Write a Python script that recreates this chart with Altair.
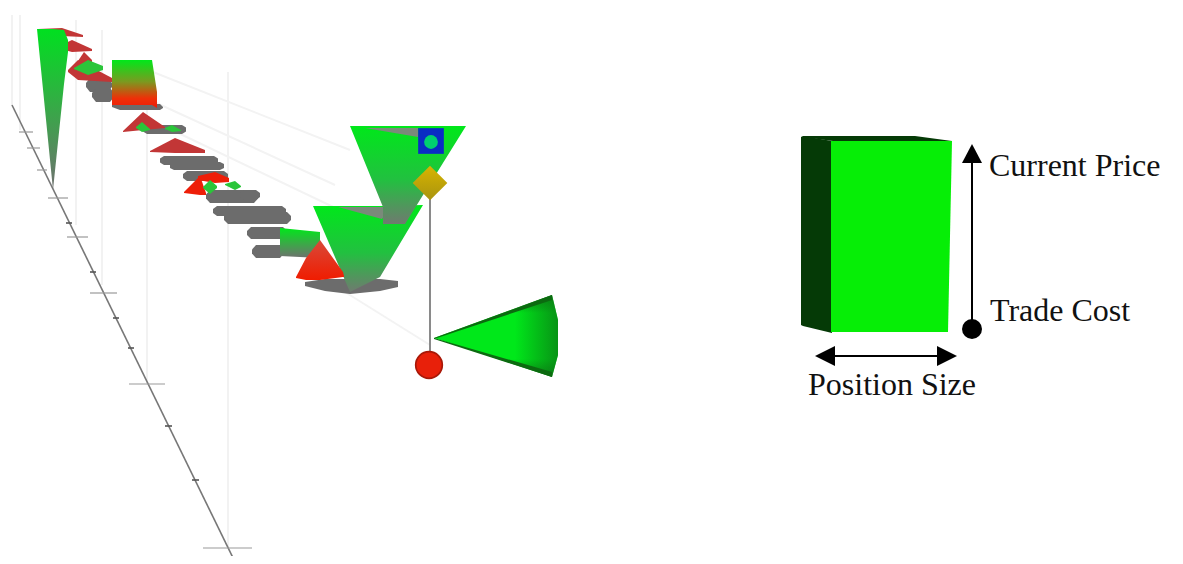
import altair as alt
import pandas as pd

W, H = 1167, 548
XD = [8, 8 + W]
YD = [8 + H, 8]
xs = alt.Scale(domain=XD, nice=False, zero=False)
ys = alt.Scale(domain=YD, nice=False, zero=False)
GREEN, GRAY, RED, DRED = "#00e81a", "#6c6c6c", "#ee1e08", "#c23636"

# ---- data: (x, top, bottom) stations of each shape
TALL_CONE = [(37, 29, 29), (53, 29, 190), (64, 30, 84), (68, 40, 52)]
BOX_A = [(112, 60, 105), (152, 60, 105), (157, 92, 108)]
BOX_A_BASE = [(112, 104, 107), (120, 104, 110), (160, 104, 110), (163, 107, 108)]
CONE_ONE = [(350, 126, 126), (383, 126, 207), (383, 126, 224), (405, 126, 224), (466, 126, 126)]
CONE_TWO = [(313, 206, 206), (350, 206, 292), (380, 206, 277), (423, 205, 205)]
BOX_B = [(280, 228, 256), (320, 232, 258)]
TRI_B = [(296, 277, 278), (306, 258, 280), (320, 240, 280), (343, 272, 277), (344, 276, 277)]
GRAY_SHADOW_B = [(305, 282, 286), (325, 279, 291), (350, 279, 294), (380, 279, 291), (398, 281, 287)]
GRAY_TOP_ONE = [(365, 128, 128), (418, 128, 137)]
GRAY_TOP_TWO = [(338, 207, 207), (382, 207, 219), (390, 207, 207)]
CONE_SIDE = [(434, 338, 338), (552, 295, 377), (558, 320, 355)]
CONE_EDGE_UP = [(434, 338, 339), (552, 295, 300)]
CONE_EDGE_DN = [(434, 338, 339), (552, 372, 377)]
CONE_RIM = [(515, 308, 364), (552, 295, 377), (558, 320, 355)]

# gray stair-step trail: x0, x1, y0, y1
GRAY_BANDS = [
    (86, 112, 78, 92), (92, 114, 88, 102), (143, 186, 125, 134),
    (160, 218, 156, 165), (170, 224, 162, 170), (183, 228, 171, 181),
    (206, 258, 190, 203), (213, 286, 206, 216), (224, 291, 212, 224),
    (247, 287, 227, 239), (252, 284, 245, 258), (240, 260, 190, 200),
]
RED_TRIS = [
    [(38, 29, 30), (62, 28, 36), (83, 35, 37)],
    [(57, 47, 48), (72, 40, 52), (92, 49, 51)],
    [(78, 61, 62), (84, 52, 64), (92, 60, 63)],
    [(68, 70, 72), (78, 60, 80), (112, 78, 82)],
    [(123, 131, 132), (143, 112, 130), (165, 127, 128)],
    [(150, 151, 152), (175, 138, 153), (205, 150, 153)],
    [(184, 192, 193), (200, 176, 195), (206, 193, 195)],
    [(198, 176, 180), (215, 172, 183), (229, 178, 182)],
]
GREEN_BITS = [
    [(74, 68, 69), (88, 60, 75), (103, 66, 70)],
    [(136, 127, 128), (142, 122, 132), (150, 129, 130)],
    [(165, 128, 129), (172, 125, 132), (181, 130, 131)],
    [(203, 187, 188), (210, 180, 194), (217, 186, 188)],
    [(225, 184, 185), (235, 181, 190), (241, 186, 187)],
]
V_GUIDES = [(12, 15, 105), (20, 15, 130), (76, 20, 225), (102, 30, 285), (147, 60, 384), (228, 72, 548)]
DIAGONALS = [(153, 72, 350, 150), (150, 100, 335, 185), (172, 130, 350, 215), (345, 292, 430, 345)]
AXIS_LINE = [(12, 105), (236, 564)]
MAJOR_TICKS = [(19, 33, 132), (27, 40, 148), (37, 47, 170), (48, 68, 198), (67, 88, 237),
               (90, 117, 293), (129, 165, 384), (203, 252, 548)]
MINOR_TICKS = [(66, 72, 223), (90, 96, 272), (113, 119, 318), (128, 134, 348), (165, 172, 426), (192, 199, 480)]
CURSOR_LINE = [(430, 195), (430, 352)]

SIDE_DARK = [(801, 137, 325), (803, 136, 326), (832, 141, 333)]
TOP_DARK = [(803, 136, 137), (833, 136, 141), (915, 136, 141), (952, 141, 141)]
FRONT = [(831, 141, 332), (833, 141, 332), (948, 141, 332), (952, 141, 141)]
PRICE_HEAD = [(962, 163, 163), (972, 144, 163), (982, 163, 163)]
LEFT_HEAD = [(815, 356, 356), (835, 346, 366)]
RIGHT_HEAD = [(937, 346, 366), (957, 356, 356)]
PRICE_LINE = [(972, 160), (972, 329)]
SIZE_LINE = [(830, 356), (942, 356)]
LABELS = [("Current Price", 989, 176), ("Trade Cost", 990, 321), ("Position Size", 808, 395)]


def grad(c0, c1, mid=None):
    stops = [alt.GradientStop(color=c0, offset=0)]
    if mid:
        stops.append(alt.GradientStop(color=mid, offset=0.5))
    stops.append(alt.GradientStop(color=c1, offset=1))
    return alt.Gradient(gradient="linear", x1=0, y1=0, x2=0, y2=1, stops=stops)


def poly(rows, color, opacity=1.0):
    df = pd.DataFrame(rows, columns=["x", "t", "b"])
    return alt.Chart(df).mark_area(color=color, opacity=opacity, line=False, clip=True).encode(
        x=alt.X("x:Q", scale=xs, axis=None),
        y=alt.Y("t:Q", scale=ys, axis=None),
        y2="b:Q",
    )


def seg(x0, y0, x1, y1, color, w, opacity=1.0):
    df = pd.DataFrame({"x": [x0], "y": [y0], "x2": [x1], "y2": [y1]})
    return alt.Chart(df).mark_rule(color=color, strokeWidth=w, opacity=opacity, clip=True).encode(
        x=alt.X("x:Q", scale=xs, axis=None),
        y=alt.Y("y:Q", scale=ys, axis=None),
        x2="x2:Q",
        y2="y2:Q",
    )


def band(x0, x1, y0, y1):
    m = (y0 + y1) / 2
    return [(x0, m - 2, m + 2), (x0 + 4, y0, y1), (x1 - 4, y0, y1), (x1, m - 2, m + 2)]


def sym(x, y, shape, size, fill):
    df = pd.DataFrame({"x": [x], "y": [y]})
    return alt.Chart(df).mark_point(shape=shape, size=size, fill=fill, filled=True, opacity=1, strokeWidth=0).encode(
        x=alt.X("x:Q", scale=xs, axis=None),
        y=alt.Y("y:Q", scale=ys, axis=None),
    )


layers = []
for x, y0, y1 in V_GUIDES:
    layers.append(seg(x, y0, x, y1, "#eeeeee", 1.5))
for x0, y0, x1, y1 in DIAGONALS:
    layers.append(seg(x0, y0, x1, y1, "#f3f3f3", 2))
(ax0, ay0), (ax1, ay1) = AXIS_LINE
layers.append(seg(ax0, ay0, ax1, ay1, "#777777", 1.6))
for x0, x1, y in MAJOR_TICKS:
    layers.append(seg(x0, y, x1, y, "#999999", 1.2))
for x0, x1, y in MINOR_TICKS:
    layers.append(seg(x0, y, x1, y, "#555555", 1.6))

for b in GRAY_BANDS:
    layers.append(poly(band(*b), GRAY))
for r in RED_TRIS:
    layers.append(poly(r, RED if r[1][1] > 170 and r[1][1] < 180 else DRED))
for g in GREEN_BITS:
    layers.append(poly(g, "#2bc53a"))
layers.append(poly(TALL_CONE, grad("#00e020", "#707070")))
layers.append(poly(BOX_A_BASE, GRAY))
layers.append(poly(BOX_A, alt.Gradient(gradient="linear", x1=0, y1=0, x2=0, y2=1, stops=[
    alt.GradientStop(color="#00e81a", offset=0),
    alt.GradientStop(color="#7a9a20", offset=0.45),
    alt.GradientStop(color="#ee3008", offset=0.8),
    alt.GradientStop(color="#ee1e08", offset=1)])))
layers.append(poly(GRAY_SHADOW_B, GRAY))
layers.append(poly(BOX_B, grad("#00e81a", "#707070")))
layers.append(poly(CONE_TWO, alt.Gradient(gradient="linear", x1=0, y1=0, x2=0, y2=1, stops=[
    alt.GradientStop(color="#00e81a", offset=0),
    alt.GradientStop(color="#22c040", offset=0.55),
    alt.GradientStop(color="#707a70", offset=1)])))
layers.append(poly(GRAY_TOP_TWO, "#7a8a7a"))
layers.append(poly(CONE_ONE, alt.Gradient(gradient="linear", x1=0, y1=0, x2=0, y2=1, stops=[
    alt.GradientStop(color="#00e81a", offset=0),
    alt.GradientStop(color="#22c040", offset=0.55),
    alt.GradientStop(color="#707a70", offset=1)])))
layers.append(poly(GRAY_TOP_ONE, "#7a8a7a"))
layers.append(poly(TRI_B, grad("#d84a3a", "#f01c00")))

(cx0, cy0), (cx1, cy1) = CURSOR_LINE
layers.append(seg(cx0, cy0, cx1, cy1, "#8a8a8a", 2))
layers.append(sym(431, 141, "square", 660, "#0a2cc4"))
layers.append(sym(431, 142, "circle", 190, "#00d070"))
layers.append(sym(430, 183, "diamond", 1200, grad("#d8b400", "#a89410")))
layers.append(sym(429, 365, "circle", 800, "#a81808"))
layers.append(sym(429, 365, "circle", 620, "#e8200a"))
layers.append(poly(CONE_SIDE, alt.Gradient(gradient="linear", x1=0, y1=0, x2=0, y2=1, stops=[
    alt.GradientStop(color="#0a8a14", offset=0),
    alt.GradientStop(color="#00e81a", offset=0.22),
    alt.GradientStop(color="#00e81a", offset=0.78),
    alt.GradientStop(color="#0a8a14", offset=1)])))
layers.append(poly(CONE_RIM, alt.Gradient(gradient="linear", x1=0, y1=0, x2=1, y2=0, stops=[
    alt.GradientStop(color="rgba(10,120,20,0)", offset=0),
    alt.GradientStop(color="rgba(10,120,20,0.75)", offset=1)])))
layers.append(poly(CONE_EDGE_UP, "#0c6a10"))
layers.append(poly(CONE_EDGE_DN, "#0c6a10"))

layers.append(poly(SIDE_DARK, "#053a06"))
layers.append(poly(TOP_DARK, "#053a06"))
layers.append(poly(FRONT, "#06ee06"))
(px0, py0), (px1, py1) = PRICE_LINE
layers.append(seg(px0, py0, px1, py1, "#000000", 2))
layers.append(poly(PRICE_HEAD, "#000000"))
layers.append(sym(px1, py1, "circle", 400, "#000000"))
(sx0, sy0), (sx1, sy1) = SIZE_LINE
layers.append(seg(sx0, sy0, sx1, sy1, "#000000", 2))
layers.append(poly(LEFT_HEAD, "#000000"))
layers.append(poly(RIGHT_HEAD, "#000000"))

label_df = pd.DataFrame(LABELS, columns=["t", "x", "y"])
layers.append(alt.Chart(label_df).mark_text(
    font="Liberation Serif", fontSize=32, align="left", baseline="alphabetic", color="#111111"
).encode(
    x=alt.X("x:Q", scale=xs, axis=None),
    y=alt.Y("y:Q", scale=ys, axis=None),
    text="t:N",
))

chart = alt.layer(*layers).properties(
    width=W, height=H, padding=0, autosize=alt.AutoSizeParams(type="none")
).configure_view(stroke=None)
chart.save("out.html", embed_options={"renderer": "svg", "actions": False})
